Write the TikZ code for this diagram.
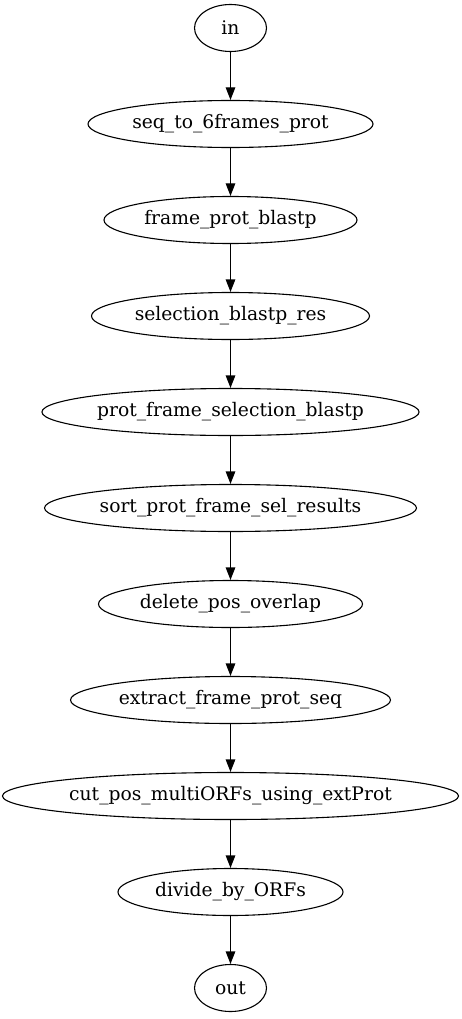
\documentclass[tikz,border=0pt]{standalone}
\usepackage{fontspec}
\setmainfont{DejaVu Serif}
\usetikzlibrary{shapes.geometric,arrows.meta}
\begin{document}
\begin{tikzpicture}[x=1pt,y=-1pt,
  stage/.style={ellipse,draw,line width=1.1pt,inner sep=0pt,minimum height=47pt,
    font=\fontsize{18.7}{20}\selectfont},
  flow/.style={draw,line width=1.1pt,-{Triangle[length=12.5pt,width=9.5pt]}}]
\useasboundingbox (0,0) rectangle (461,1019);
\node[stage,minimum width=72pt] (n0) at (230.5,28) {in};
\node[stage,minimum width=285pt] (n1) at (230.5,124) {seq\_to\_6frames\_prot};
\node[stage,minimum width=253pt] (n2) at (230.5,220) {frame\_prot\_blastp};
\node[stage,minimum width=278pt] (n3) at (230.5,316) {selection\_blastp\_res};
\node[stage,minimum width=377pt] (n4) at (230.5,412) {prot\_frame\_selection\_blastp};
\node[stage,minimum width=372pt] (n5) at (230.5,508) {sort\_prot\_frame\_sel\_results};
\node[stage,minimum width=264pt] (n6) at (230.5,604) {delete\_pos\_overlap};
\node[stage,minimum width=320pt] (n7) at (230.5,700) {extract\_frame\_prot\_seq};
\node[stage,minimum width=453pt] (n8) at (230.5,796) {cut\_pos\_multiORFs\_using\_extProt};
\node[stage,minimum width=225pt] (n9) at (230.5,892) {divide\_by\_ORFs};
\node[stage,minimum width=72pt] (n10) at (230.5,988) {out};
\foreach \a/\b in {n0/n1,n1/n2,n2/n3,n3/n4,n4/n5,n5/n6,n6/n7,n7/n8,n8/n9,n9/n10}
  \draw[flow] (\a) -- (\b);
\end{tikzpicture}
\end{document}
